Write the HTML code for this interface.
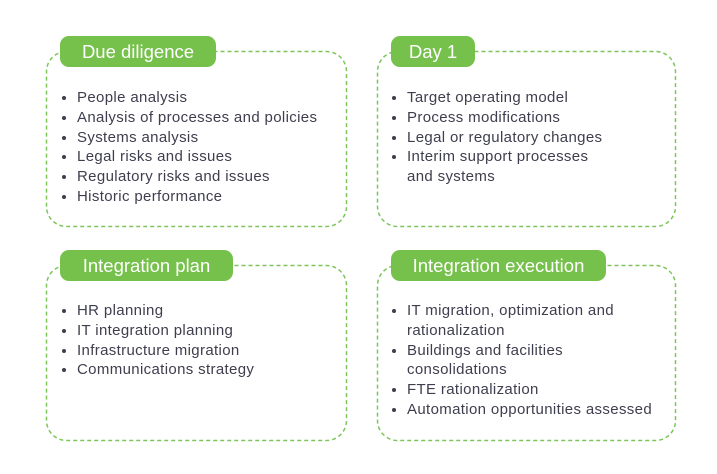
<!DOCTYPE html>
<html><head><style>
body{margin:0;width:717px;height:474px;background:#fff;position:relative;font-family:"Liberation Sans",sans-serif;overflow:hidden}
svg{position:absolute;left:0;top:0}
.tag{position:absolute;background:#76c04c;color:#fff;font-size:18.5px;border-radius:9px;height:31px;line-height:31px;text-align:center}
ul{position:absolute;margin:0;padding:0 0 0 18px;font-size:15px;letter-spacing:0.35px;line-height:19.8px;color:#3e3e4e}
</style></head><body>
<svg width="717" height="474"><g fill="none" stroke="#7cc55a" stroke-width="1.5" stroke-dasharray="4 3">
<rect x="46.5" y="51.5" width="300" height="175" rx="20"/>
<rect x="377.5" y="51.5" width="298" height="175" rx="20"/>
<rect x="46.5" y="265.5" width="300" height="175" rx="20"/>
<rect x="377.5" y="265.5" width="298" height="175" rx="20"/>
</g></svg>
<div class="tag" style="left:60px;top:36px;width:156px">Due diligence</div>
<ul style="left:59px;top:88px"><li>People analysis</li><li>Analysis of processes and policies</li><li>Systems analysis</li><li>Legal risks and issues</li><li>Regulatory risks and issues</li><li>Historic performance</li></ul>

<div class="tag" style="left:391px;top:36px;width:84px">Day 1</div>
<ul style="left:389px;top:88px"><li>Target operating model</li><li>Process modifications</li><li>Legal or regulatory changes</li><li>Interim support processes<br>and systems</li></ul>

<div class="tag" style="left:60px;top:250px;width:173px">Integration plan</div>
<ul style="left:59px;top:301px"><li>HR planning</li><li>IT integration planning</li><li>Infrastructure migration</li><li>Communications strategy</li></ul>

<div class="tag" style="left:391px;top:250px;width:215px">Integration execution</div>
<ul style="left:389px;top:301px"><li>IT migration, optimization and<br>rationalization</li><li>Buildings and facilities<br>consolidations</li><li>FTE rationalization</li><li>Automation opportunities assessed</li></ul>
</body></html>
